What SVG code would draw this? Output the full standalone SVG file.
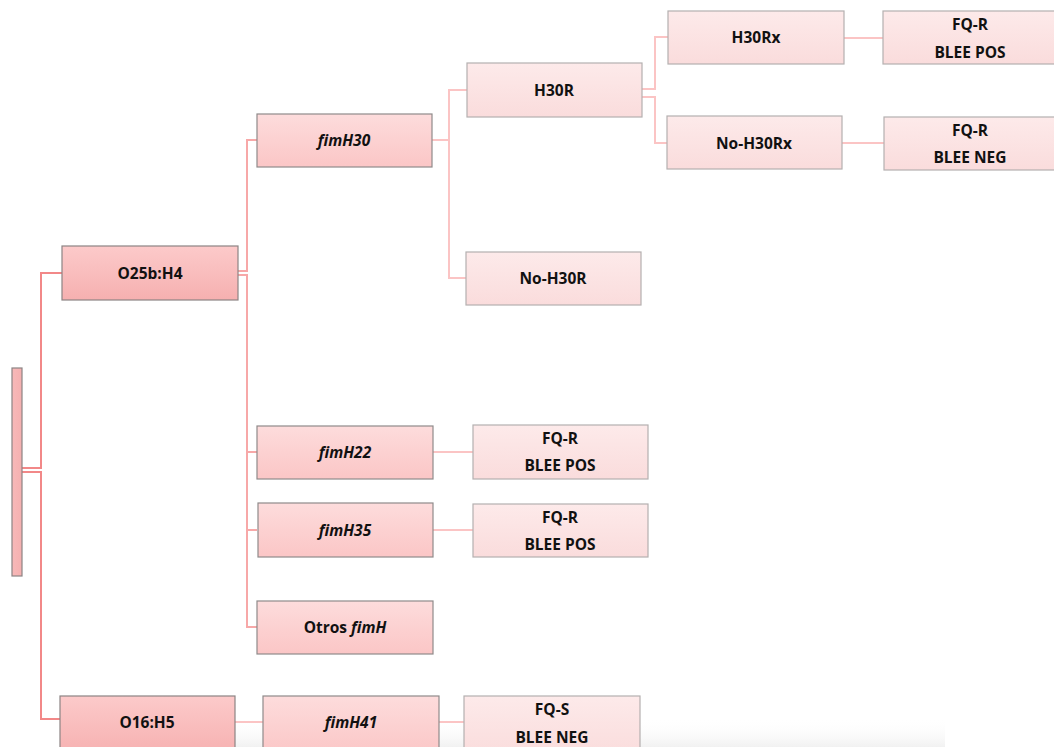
<svg xmlns="http://www.w3.org/2000/svg" width="1054" height="747" viewBox="0 0 1054 747">
<defs>
<linearGradient id="gDark" x1="0" y1="0" x2="0" y2="1"><stop offset="0" stop-color="#fccaca"/><stop offset="1" stop-color="#f6b0b0"/></linearGradient>
<linearGradient id="gMid" x1="0" y1="0" x2="0" y2="1"><stop offset="0" stop-color="#fddcdc"/><stop offset="1" stop-color="#fbc6c6"/></linearGradient>
<linearGradient id="gLight" x1="0" y1="0" x2="0" y2="1"><stop offset="0" stop-color="#fdeaea"/><stop offset="1" stop-color="#fadcdc"/></linearGradient>
<linearGradient id="gBar" x1="0" y1="0" x2="1" y2="0"><stop offset="0" stop-color="#f7b8b8"/><stop offset="1" stop-color="#f5b0b0"/></linearGradient>
<linearGradient id="gShade" x1="0" y1="0" x2="0" y2="1"><stop offset="0" stop-color="#ffffff" stop-opacity="0"/><stop offset="1" stop-color="#eeeeee" stop-opacity="0.8"/></linearGradient>
</defs>
<style>
.dark{fill:url(#gDark);stroke:#8c8484;stroke-width:1.2}
.mid{fill:url(#gMid);stroke:#8f8a8a;stroke-width:1.2}
.light{fill:url(#gLight);stroke:#b4b0b0;stroke-width:1.2}
.bar{fill:url(#gBar);stroke:#8c8484;stroke-width:1.2}
text{font-family:"Open Sans","Liberation Sans",sans-serif;font-weight:bold;font-size:15.5px;fill:#111;text-anchor:middle;dominant-baseline:central}
.it{font-style:italic}
.c1{fill:none;stroke:#f28888;stroke-width:2}
.c2{fill:none;stroke:#f7a8a8;stroke-width:2}
.c3{fill:none;stroke:#fbc4c4;stroke-width:2}
</style>
<rect x="235" y="718" width="710" height="29" fill="url(#gShade)"/>
<g id="connectors">
<polyline class="c1" points="22,468 41,468 41,273 62,273"/>
<polyline class="c1" points="22,472 41,472 41,719 60,719"/>
<polyline class="c2" points="238,271 247,271 247,140 257,140"/>
<polyline class="c2" points="238,275 247,275 247,627 257,627"/>
<line class="c2" x1="247" y1="452" x2="257" y2="452"/>
<line class="c2" x1="247" y1="530" x2="257" y2="530"/>
<polyline class="c3" points="432,140 449,140 449,90 467,90"/>
<polyline class="c3" points="449,140 449,278 466,278"/>
<polyline class="c3" points="642,89 655,89 655,37 668,37"/>
<polyline class="c3" points="642,97 655,97 655,143 667,143"/>
<line class="c3" x1="844" y1="38" x2="883" y2="38"/>
<line class="c3" x1="842" y1="143" x2="884" y2="143"/>
<line class="c3" x1="433" y1="452" x2="473" y2="452"/>
<line class="c3" x1="433" y1="530" x2="473" y2="530"/>
<line class="c3" x1="235" y1="722" x2="263" y2="722"/>
<line class="c3" x1="439" y1="722" x2="464" y2="722"/>
</g>
<g id="root"><rect class="bar" x="12" y="368" width="10" height="208"/></g>
<g id="n-o25b"><rect class="dark" x="62" y="246" width="176" height="54"/><text x="150" y="273">O25b:H4</text></g>
<g id="n-o16"><rect class="dark" x="60" y="696" width="175" height="60"/><text x="147" y="722">O16:H5</text></g>
<g id="n-fimh30"><rect class="mid" x="257" y="114" width="175" height="53"/><text class="it" x="344" y="140">fimH30</text></g>
<g id="n-fimh22"><rect class="mid" x="257" y="426" width="176" height="53"/><text class="it" x="345" y="452">fimH22</text></g>
<g id="n-fimh35"><rect class="mid" x="258" y="503" width="175" height="54"/><text class="it" x="345" y="530">fimH35</text></g>
<g id="n-otros"><rect class="mid" x="257" y="601" width="176" height="53"/><text x="345" y="627">Otros <tspan class="it">fimH</tspan></text></g>
<g id="n-fimh41"><rect class="mid" x="263" y="696" width="176" height="60"/><text class="it" x="351" y="722">fimH41</text></g>
<g id="n-h30r"><rect class="light" x="467" y="63" width="175" height="54"/><text x="554" y="90">H30R</text></g>
<g id="n-noh30r"><rect class="light" x="466" y="252" width="175" height="53"/><text x="553" y="278">No-H30R</text></g>
<g id="n-h30rx"><rect class="light" x="668" y="11" width="176" height="53"/><text x="756" y="37">H30Rx</text></g>
<g id="n-noh30rx"><rect class="light" x="667" y="116" width="175" height="53"/><text x="754" y="143">No-H30Rx</text></g>
<g id="n-fq1"><rect class="light" x="883" y="11" width="180" height="53"/><text x="970" y="24">FQ-R</text><text x="970" y="52">BLEE POS</text></g>
<g id="n-fq2"><rect class="light" x="884" y="117" width="180" height="53"/><text x="970" y="130">FQ-R</text><text x="970" y="157">BLEE NEG</text></g>
<g id="n-fq22"><rect class="light" x="473" y="425" width="175" height="54"/><text x="560" y="438">FQ-R</text><text x="560" y="465">BLEE POS</text></g>
<g id="n-fq35"><rect class="light" x="473" y="504" width="175" height="53"/><text x="560" y="517">FQ-R</text><text x="560" y="544">BLEE POS</text></g>
<g id="n-fqs"><rect class="light" x="464" y="696" width="176" height="60"/><text x="552" y="709">FQ-S</text><text x="552" y="737">BLEE NEG</text></g>
</svg>
